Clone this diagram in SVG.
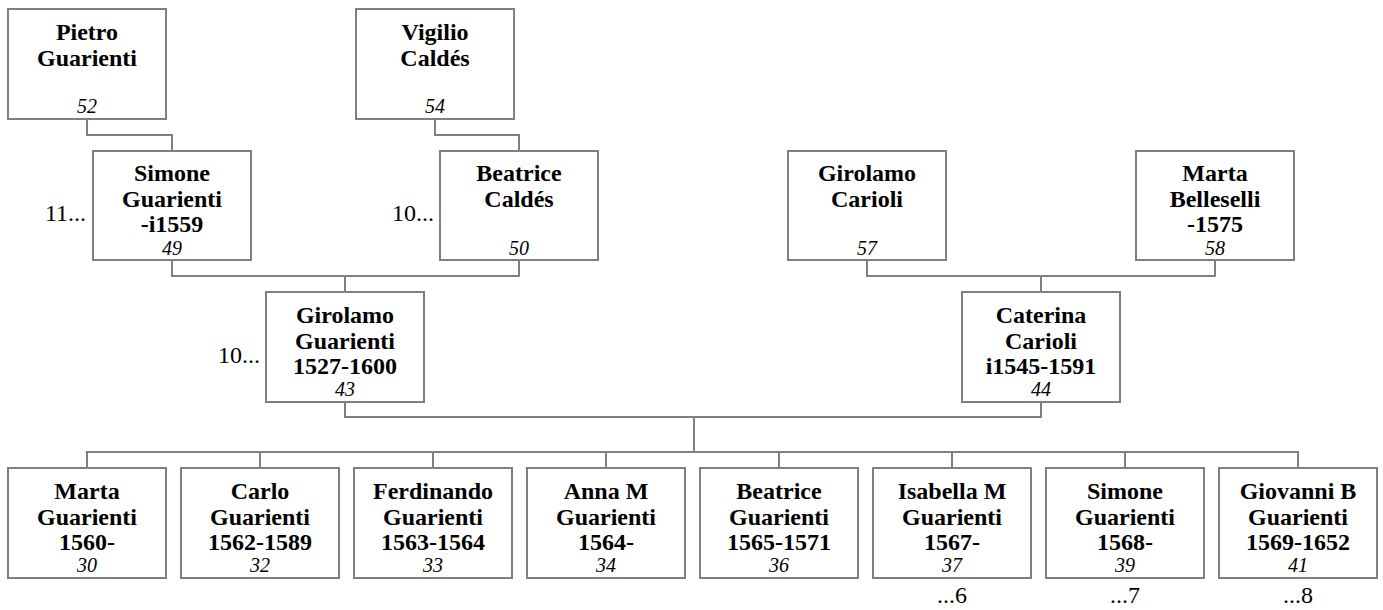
<svg xmlns="http://www.w3.org/2000/svg" width="1383" height="610" viewBox="0 0 1383 610">
<style>
.box{fill:#fff;stroke:#808080;stroke-width:2}
.c{fill:none;stroke:#808080;stroke-width:2}
.n{font-weight:bold;font-size:24px;text-anchor:middle;fill:#000}
.id{font-style:italic;font-size:20px;text-anchor:middle;fill:#000}
.m{font-size:24px;fill:#000}
</style>
<rect width="1383" height="610" fill="#fff"/>
<g id="connectors">
<path class="c" d="M87 119V135H172V151"/>
<path class="c" d="M435 119V135H519V151"/>
<path class="c" d="M172 260V276H519V260M345 276V292"/>
<path class="c" d="M867 260V276H1215V260M1041 276V292"/>
<path class="c" d="M345 402V417H1041V402M694 417V452"/>
<path class="c" d="M87 468V452H1298V468M260 452V468M433 452V468M606 452V468M779 452V468M952 452V468M1125 452V468"/>
</g>
<g font-family="Liberation Serif, Times New Roman, serif">
<g id="n52"><rect class="box" x="8" y="9" width="158" height="110"/><text class="n" x="87" y="40">Pietro</text><text class="n" x="87" y="66">Guarienti</text><text class="id" x="87" y="113">52</text></g>
<g id="n54"><rect class="box" x="356" y="9" width="158" height="110"/><text class="n" x="435" y="40">Vigilio</text><text class="n" x="435" y="66">Caldés</text><text class="id" x="435" y="113">54</text></g>
<g id="n49"><rect class="box" x="93" y="151" width="158" height="109"/><text class="m" x="86" y="221" text-anchor="end">11...</text><text class="n" x="172" y="181">Simone</text><text class="n" x="172" y="207">Guarienti</text><text class="n" x="172" y="232">-i1559</text><text class="id" x="172" y="255">49</text></g>
<g id="n50"><rect class="box" x="440" y="151" width="158" height="109"/><text class="m" x="434" y="221" text-anchor="end">10...</text><text class="n" x="519" y="181">Beatrice</text><text class="n" x="519" y="207">Caldés</text><text class="id" x="519" y="255">50</text></g>
<g id="n57"><rect class="box" x="788" y="151" width="158" height="109"/><text class="n" x="867" y="181">Girolamo</text><text class="n" x="867" y="207">Carioli</text><text class="id" x="867" y="255">57</text></g>
<g id="n58"><rect class="box" x="1136" y="151" width="158" height="109"/><text class="n" x="1215" y="181">Marta</text><text class="n" x="1215" y="207">Belleselli</text><text class="n" x="1215" y="232">-1575</text><text class="id" x="1215" y="255">58</text></g>
<g id="n43"><rect class="box" x="266" y="292" width="158" height="110"/><text class="m" x="260" y="363" text-anchor="end">10...</text><text class="n" x="345" y="323">Girolamo</text><text class="n" x="345" y="349">Guarienti</text><text class="n" x="345" y="374">1527-1600</text><text class="id" x="345" y="396">43</text></g>
<g id="n44"><rect class="box" x="962" y="292" width="158" height="110"/><text class="n" x="1041" y="323">Caterina</text><text class="n" x="1041" y="349">Carioli</text><text class="n" x="1041" y="374">i1545-1591</text><text class="id" x="1041" y="396">44</text></g>
<g id="n30"><rect class="box" x="8" y="468" width="158" height="110"/><text class="n" x="87" y="499">Marta</text><text class="n" x="87" y="525">Guarienti</text><text class="n" x="87" y="550">1560-</text><text class="id" x="87" y="572">30</text></g>
<g id="n32"><rect class="box" x="181" y="468" width="158" height="110"/><text class="n" x="260" y="499">Carlo</text><text class="n" x="260" y="525">Guarienti</text><text class="n" x="260" y="550">1562-1589</text><text class="id" x="260" y="572">32</text></g>
<g id="n33"><rect class="box" x="354" y="468" width="158" height="110"/><text class="n" x="433" y="499">Ferdinando</text><text class="n" x="433" y="525">Guarienti</text><text class="n" x="433" y="550">1563-1564</text><text class="id" x="433" y="572">33</text></g>
<g id="n34"><rect class="box" x="527" y="468" width="158" height="110"/><text class="n" x="606" y="499">Anna M</text><text class="n" x="606" y="525">Guarienti</text><text class="n" x="606" y="550">1564-</text><text class="id" x="606" y="572">34</text></g>
<g id="n36"><rect class="box" x="700" y="468" width="158" height="110"/><text class="n" x="779" y="499">Beatrice</text><text class="n" x="779" y="525">Guarienti</text><text class="n" x="779" y="550">1565-1571</text><text class="id" x="779" y="572">36</text></g>
<g id="n37"><rect class="box" x="873" y="468" width="158" height="110"/><text class="n" x="952" y="499">Isabella M</text><text class="n" x="952" y="525">Guarienti</text><text class="n" x="952" y="550">1567-</text><text class="id" x="952" y="572">37</text><text class="m" x="952" y="603" text-anchor="middle">...6</text></g>
<g id="n39"><rect class="box" x="1046" y="468" width="158" height="110"/><text class="n" x="1125" y="499">Simone</text><text class="n" x="1125" y="525">Guarienti</text><text class="n" x="1125" y="550">1568-</text><text class="id" x="1125" y="572">39</text><text class="m" x="1125" y="603" text-anchor="middle">...7</text></g>
<g id="n41"><rect class="box" x="1219" y="468" width="158" height="110"/><text class="n" x="1298" y="499">Giovanni B</text><text class="n" x="1298" y="525">Guarienti</text><text class="n" x="1298" y="550">1569-1652</text><text class="id" x="1298" y="572">41</text><text class="m" x="1298" y="603" text-anchor="middle">...8</text></g>
</g>
</svg>
